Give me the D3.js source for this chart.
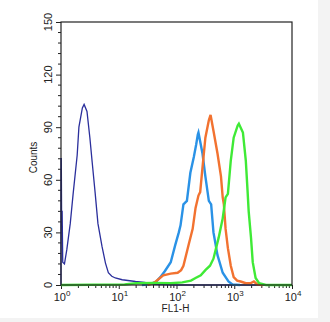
<!DOCTYPE html>
<html>
<head>
<meta charset="utf-8">
<script src="https://cdn.jsdelivr.net/npm/d3@7"></script>
<style>
  body { margin:0; background:#f3f3f3; }
  svg { display:block; }
  text { font-family: "Liberation Sans", Arial, sans-serif; fill:#222; }
</style>
</head>
<body>
<div id="chart"></div>
<script>
// histogram outlines: [log10(FL1-H), counts]
const isotype = [[0,0],[0,72],[0.005,72],[0.01,42],[0.02,42],[0.03,13],[0.06,12],[0.1,20],[0.16,35],[0.21,52],[0.28,74],[0.31,90],[0.37,101],[0.4,103],[0.45,99],[0.5,84],[0.54,70],[0.59,53],[0.64,35],[0.71,22],[0.77,12.5],[0.82,7],[0.88,5],[0.94,4],[1.06,3],[1.29,2],[1.45,1.5],[1.6,0.3],[2,0],[4,0]];
const sampleA = [[1.4,0],[1.55,0.5],[1.65,2],[1.72,4.5],[1.8,8],[1.9,13],[1.98,23],[2.04,30],[2.07,34],[2.12,46],[2.18,48],[2.24,64],[2.3,73],[2.34,80],[2.37,86],[2.38,87],[2.45,75],[2.5,62],[2.56,48],[2.6,46],[2.64,30],[2.71,17],[2.8,7],[2.9,2],[2.97,0.3],[3.1,0]];
const sampleB = [[1.5,0],[1.62,1.5],[1.77,5.5],[1.9,6.5],[2.02,7],[2.08,8.5],[2.12,11],[2.21,23],[2.28,32],[2.33,44],[2.38,51],[2.41,53],[2.45,67],[2.5,84],[2.56,94],[2.59,97],[2.64,88],[2.71,75],[2.77,62],[2.8,50],[2.82,46],[2.85,32],[2.89,21],[2.94,11],[2.99,4.5],[3.05,2.5],[3.11,2],[3.2,1],[3.28,1],[3.34,2],[3.4,0.3],[3.5,0]];
const sampleC = [[0,0],[1.1,0.3],[1.3,1],[1.6,1.2],[1.9,1],[2.1,1.5],[2.25,2.5],[2.33,4],[2.42,5.5],[2.5,8.5],[2.58,11],[2.64,15],[2.73,27],[2.8,38],[2.85,50],[2.89,52],[2.94,71],[2.99,84],[3.06,91],[3.08,92],[3.15,87],[3.2,71],[3.23,54],[3.25,42],[3.29,27],[3.32,13],[3.37,4],[3.43,1],[3.55,0],[4,0]];

const yTicks = [0,30,60,90,120,150];
const xTicks = [0,1,2,3,4];

const margin = {top:22, right:38, bottom:37, left:61},
    width = 330 - margin.left - margin.right,
    height = 322 - margin.top - margin.bottom;

const root = d3.select("#chart")
    .append("svg")
    .attr("width",330)
    .attr("height",322);

root.append("rect")
    .attr("width",318).attr("height",318)
    .attr("fill","#fff");

const svg = root.append("g")
    .attr("transform","translate("+margin.left+","+margin.top+")");

const x = d3.scaleLinear().domain([0,4]).range([0,width]);
const y = d3.scaleLinear().domain([0,150]).range([height,0]);

// minor ticks
const xMinor = [];
for (let k=0;k<4;k++) for (let m=2;m<10;m++) xMinor.push(k+Math.log10(m));
svg.append("g").selectAll("line").data(xMinor).enter().append("line")
    .attr("x1",d=>x(d)).attr("x2",d=>x(d))
    .attr("y1",height).attr("y2",height+3)
    .attr("stroke","#222").attr("stroke-width",1);

const yMinor = d3.range(0,151,6).filter(d=>d%30!==0);
svg.append("g").selectAll("line").data(yMinor).enter().append("line")
    .attr("x1",0).attr("x2",-3)
    .attr("y1",d=>y(d)).attr("y2",d=>y(d))
    .attr("stroke","#222").attr("stroke-width",1);

// major ticks
svg.append("g").attr("transform","translate(0,"+height+")")
    .call(d3.axisBottom(x).tickValues(xTicks).tickSize(4).tickFormat(""))
    .call(g=>g.select(".domain").remove())
    .call(g=>g.selectAll("line").attr("stroke","#222"));

svg.append("g")
    .call(d3.axisLeft(y).tickValues(yTicks).tickSize(5).tickFormat(""))
    .call(g=>g.select(".domain").remove())
    .call(g=>g.selectAll("line").attr("stroke","#222"));

// x tick labels 10^n
const xl = svg.append("g").selectAll("text").data(xTicks).enter().append("text")
    .attr("x",d=>x(d)+1)
    .attr("y",height+16)
    .attr("text-anchor","middle")
    .style("font-size","11px");
xl.append("tspan").text("10");
xl.append("tspan").attr("dy",-5).style("font-size","8px").text(d=>d);

// y tick labels, rotated
svg.append("g").selectAll("text").data(yTicks).enter().append("text")
    .attr("transform",d=>"translate(-9,"+y(d)+")rotate(-90)")
    .attr("text-anchor","middle")
    .style("font-size","11px")
    .text(d=>d);

svg.append("text")
    .attr("transform","translate(-24,"+(y(75)+4)+")rotate(-90)")
    .attr("text-anchor","middle")
    .style("font-size","10px")
    .text("Counts");

svg.append("text")
    .attr("x",x(2)-1)
    .attr("y",height+27)
    .attr("text-anchor","middle")
    .style("font-size","10px")
    .text("FL1-H");

const line = d3.line().x(d=>x(d[0])).y(d=>y(d[1]));

svg.append("path").datum(isotype)
    .attr("d",line).attr("fill","none")
    .attr("stroke","#2b2f9c").attr("stroke-width",1.3);
svg.append("path").datum(sampleA)
    .attr("d",line).attr("fill","none")
    .attr("stroke","#2a92e6").attr("stroke-width",2.4);
svg.append("path").datum(sampleB)
    .attr("d",line).attr("fill","none")
    .attr("stroke","#f27230").attr("stroke-width",2.4);
svg.append("path").datum(sampleC)
    .attr("d",line).attr("fill","none")
    .attr("stroke","#3fea36").attr("stroke-width",2.4);

// frame
svg.append("rect")
    .attr("width",width).attr("height",height)
    .attr("fill","none").attr("stroke","#222").attr("stroke-width",1.2);
</script>
</body>
</html>
